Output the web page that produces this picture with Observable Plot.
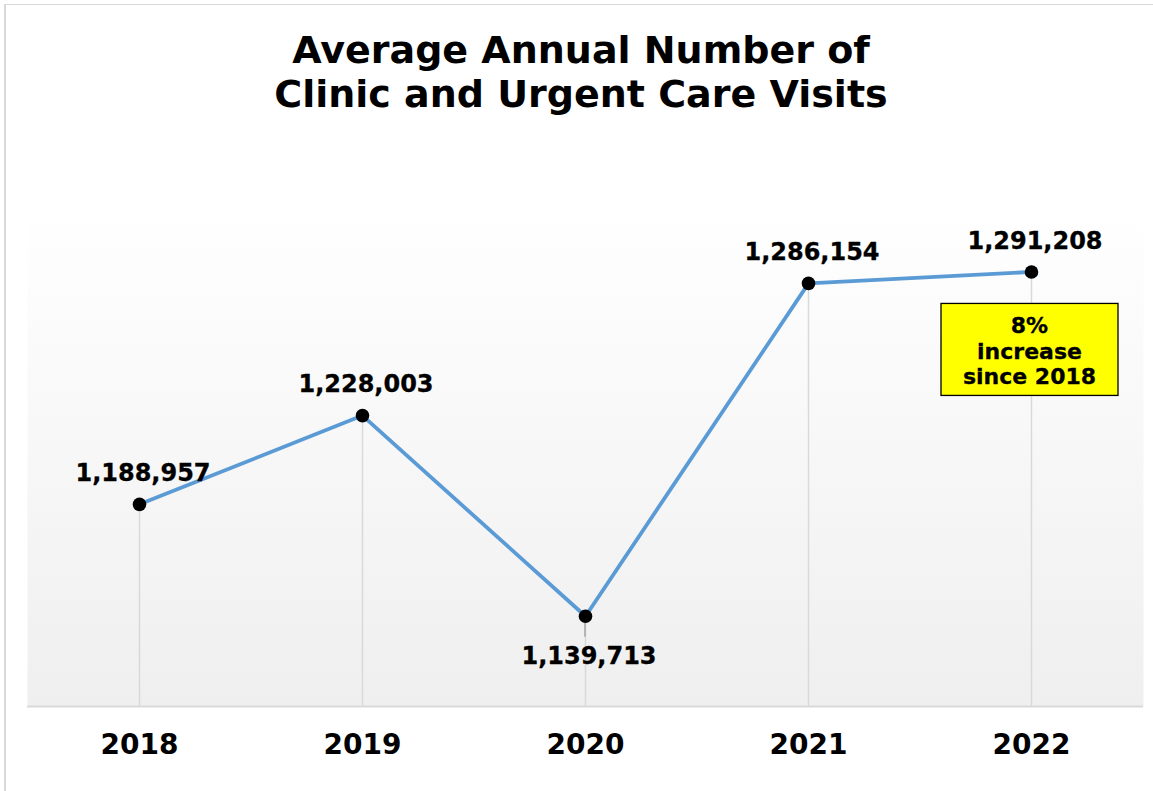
<!DOCTYPE html>
<html><head><meta charset="utf-8">
<script src="https://cdn.jsdelivr.net/npm/d3@7"></script>
<script src="https://cdn.jsdelivr.net/npm/@observablehq/plot@0.6"></script>
<style>
html,body{margin:0;padding:0;background:#fff;}
#wrap{position:relative;width:1153px;height:791px;overflow:hidden;font-family:"DejaVu Sans",Verdana,sans-serif;}
#frame{position:absolute;left:4px;top:4px;width:1200px;height:900px;border-top:1.5px solid #d9d9d9;border-left:2px solid #d9d9d9;}
#title{position:absolute;left:5px;top:28px;width:1152px;text-align:center;font-weight:bold;font-size:38px;line-height:44px;color:#000;}
#chart{position:absolute;left:0;top:130px;}
</style></head><body>
<div id="wrap">
  <div id="frame"></div>
  <div id="title">Average Annual Number of<br>Clinic and Urgent Care Visits</div>
  <div id="chart"></div>
</div>
<script>
// ---- data ----
const years = ["2018", "2019", "2020", "2021", "2022"];
const visits = [1188957, 1228003, 1139713, 1286154, 1291208];
const yDomain = [1100000, 1320000];
const annotationYear = "2022";
const annotationLines = ["8%", "increase", "since 2018"];

const data = years.map((year, i) => ({year, value: visits[i]}));
const fmt = d3.format(",");
const isLow = (d, i) => i > 0 && i < data.length - 1 && d.value < data[i - 1].value && d.value < data[i + 1].value;
const above = data.filter((d, i) => !isLow(d, i));
const below = data.filter((d, i) => isLow(d, i));
const annot = data.find(d => d.year === annotationYear);

const gradientDefs = () => {
  const defs = d3.create("svg:defs");
  const g = defs.append("linearGradient").attr("id", "plotbg")
    .attr("x1", 0).attr("y1", 0).attr("x2", 0).attr("y2", 1);
  g.append("stop").attr("offset", "0%").attr("stop-color", "#ffffff");
  g.append("stop").attr("offset", "100%").attr("stop-color", "#efefef");
  return defs.node();
};

const leaders = (index, scales) => {
  const g = d3.create("svg:g");
  below.forEach(d => {
    const cx = scales.x(d.year), cy = scales.y(d.value);
    g.append("line").attr("x1", cx).attr("x2", cx).attr("y1", cy + 6).attr("y2", cy + 21)
      .attr("stroke", "#a6a6a6").attr("stroke-width", 1.5);
  });
  return g.node();
};

const annotation = (index, scales) => {
  const cx = scales.x(annot.year), cy = scales.y(annot.value);
  const g = d3.create("svg:g");
  g.append("rect").attr("x", cx - 90).attr("y", cy + 32).attr("width", 177).attr("height", 92)
    .attr("fill", "#ffff00").attr("stroke", "#000").attr("stroke-width", 1.3);
  annotationLines.forEach((t, i) => {
    g.append("text").attr("x", cx - 1.5).attr("y", cy + 62 + i * 25.5)
      .attr("text-anchor", "middle").attr("font-size", 22).attr("font-weight", "bold")
      .attr("font-family", "DejaVu Sans, Verdana, sans-serif").attr("fill", "#000")
      .attr("stroke", "#000").attr("stroke-width", 0.3).text(t);
  });
  return g.node();
};

const chart = Plot.plot({
  width: 1153,
  height: 661,
  marginLeft: 27,
  marginRight: 10,
  marginTop: 76,
  marginBottom: 85,
  style: {fontFamily: "DejaVu Sans, Verdana, sans-serif", background: "transparent", color: "#000"},
  x: {type: "point", domain: years, padding: 0.5, label: null},
  y: {domain: yDomain, axis: null},
  marks: [
    gradientDefs,
    Plot.frame({fill: "url(#plotbg)", stroke: null}),
    Plot.ruleX(data, {x: "year", y1: "value", y2: yDomain[0], stroke: "#d9d9d9", strokeWidth: 1.5}),
    Plot.ruleY([yDomain[0]], {stroke: "#d9d9d9", strokeWidth: 2}),
    leaders,
    Plot.line(data, {x: "year", y: "value", stroke: "#5b9bd5", strokeWidth: 3.8}),
    Plot.dot(data, {x: "year", y: "value", r: 6.8, fill: "#000", stroke: null}),
    Plot.text(above, {x: "year", y: "value", text: d => fmt(d.value), dx: 3.5, dy: -31, fontSize: 24, fontWeight: "bold", fill: "#000", stroke: "#000", strokeWidth: 0.3}),
    Plot.text(below, {x: "year", y: "value", text: d => fmt(d.value), dx: 3.5, dy: 40, fontSize: 24, fontWeight: "bold", fill: "#000", stroke: "#000", strokeWidth: 0.3}),
    annotation,
    Plot.axisX({tickSize: 0, tickPadding: 28, fontSize: 28, fontWeight: "bold", fill: "#000", stroke: "#000", strokeWidth: 0.3, label: null})
  ]
});
document.getElementById("chart").appendChild(chart);
</script>
</body></html>
